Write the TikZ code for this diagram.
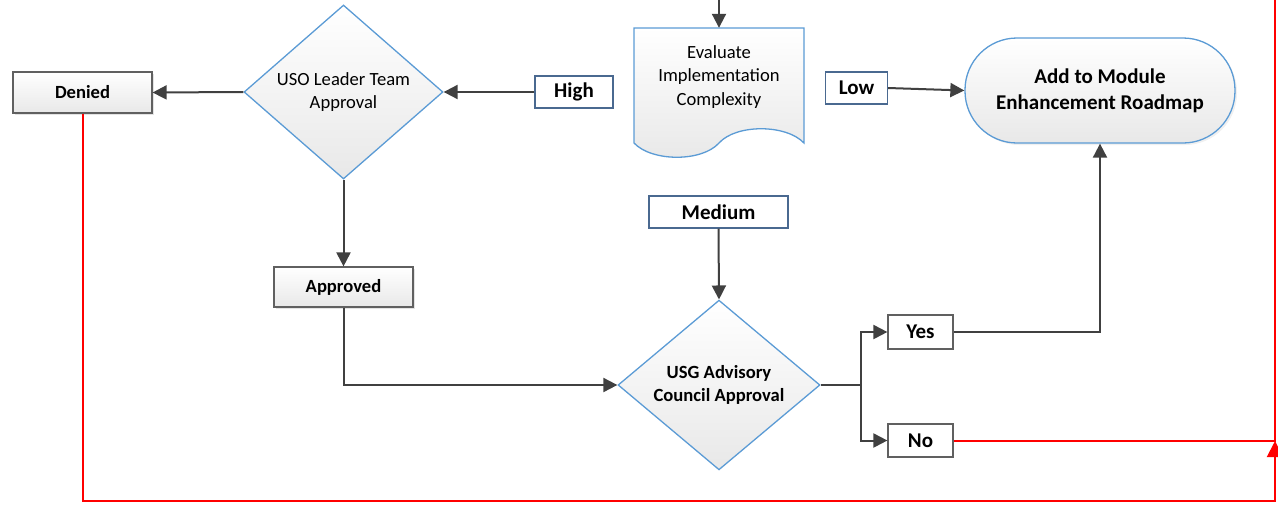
\documentclass[tikz,border=0pt]{standalone}
\usepackage{fontspec}
\setmainfont{Carlito}
\usetikzlibrary{shapes.geometric,arrows.meta,shadows,calc}
\definecolor{lblue}{HTML}{5B9BD5}
\definecolor{sblue}{HTML}{4A6990}
\definecolor{dgray}{HTML}{404040}
\definecolor{bgray}{HTML}{606060}
\tikzset{
  regtxt/.style={font=\fontsize{18.6}{23.6}\selectfont},
  boldtxt/.style={font=\bfseries\fontsize{18.6}{23}\selectfont},
  bigtxt/.style={font=\bfseries\fontsize{21}{26}\selectfont},
  grad/.style={top color=white,bottom color=black!9},
  graybox/.style={rectangle,draw=bgray,line width=1.2pt,grad,boldtxt,inner sep=0pt,
    drop shadow={opacity=0.22,shadow xshift=2pt,shadow yshift=-2pt}},
  bluelabel/.style={rectangle,draw=sblue,line width=1.2pt,fill=white,bigtxt,inner sep=0pt},
  graylabel/.style={rectangle,draw=bgray,line width=1.2pt,fill=white,bigtxt,inner sep=0pt},
  decision/.style={diamond,draw=lblue,line width=1.3pt,grad,inner sep=0pt,align=center},
  conn/.style={draw=dgray,line width=2pt,-{Triangle[length=14pt,width=14pt]}},
  plain/.style={draw=dgray,line width=2pt},
  redline/.style={draw=red,line width=2pt},
}
\begin{document}
\begin{tikzpicture}[x=1pt,y=-1pt]
\useasboundingbox (0,0) rectangle (1278,504);
% nodes
\node[graybox,minimum width=139pt,minimum height=41pt] (denied) at (82.5,92.5) {Denied};
\node[decision,regtxt,minimum width=199pt,minimum height=174pt] (uso) at (343.5,92) {USO Leader Team\\Approval};
\node[bluelabel,minimum width=78pt,minimum height=32pt] (high) at (574,92) {High};
% document shape
\node[minimum width=170pt,minimum height=122pt,inner sep=0pt] (eval) at (719,89) {};
\shade[grad,draw=lblue,line width=1.3pt]
  (634,28) -- (804,28) -- (804,143)
  .. controls (786,124) and (736,124) .. (719,143)
  .. controls (702,162) and (652,162) .. (634,143) -- cycle;
\node[regtxt,align=center] (evaltxt) at (719,77) {Evaluate\\Implementation\\Complexity};
\node[bluelabel,minimum width=62pt,minimum height=32pt] (low) at (856.5,88) {Low};
\node[rectangle,draw=lblue,line width=1.3pt,grad,rounded corners=52pt,
  minimum width=270pt,minimum height=105pt,bigtxt,align=center,inner sep=0pt,
  drop shadow={opacity=0.12,shadow xshift=2pt,shadow yshift=-2pt}] (road) at (1100,90.5)
  {Add to Module\\Enhancement Roadmap};
\node[bluelabel,minimum width=139pt,minimum height=32pt] (medium) at (718.5,212) {Medium};
\node[graybox,minimum width=139pt,minimum height=40pt] (approved) at (343.5,287) {Approved};
\node[decision,boldtxt,minimum width=202pt,minimum height=156pt] (usg) at (719,385) {USG Advisory\\Council Approval};
\node[graylabel,minimum width=65pt,minimum height=34pt] (yes) at (920.5,332) {Yes};
\node[graylabel,minimum width=65pt,minimum height=33pt] (no) at (920.5,440.5) {No};
% coordinates
\coordinate (top) at (719,0);
\coordinate (br) at (861,385);
\coordinate (rtop) at (1275,0);
\coordinate (rbot) at (1275,501);
\coordinate (rtip) at (1275,441);
% connectors
\draw[conn] (top) -- (eval.north);
\draw[conn] (high.west) -- (uso.east);
\draw[conn] (uso.west) -- (denied.east);
\draw[conn] (uso.south) -- (approved.north);
\draw[conn] (approved.south) |- (usg.west);
\draw[conn] (medium.south) -- (usg.north);
\draw[conn] (low.east) -- (road.west);
\draw[plain] (usg.east) -- (br);
\draw[conn] (br) |- (yes.west);
\draw[conn] (br) |- (no.west);
\draw[conn] (yes.east) -| (road.south);
\draw[redline] (no.east) -| (rtop);
\draw[redline,-{Triangle[length=16pt,width=16pt]}] (denied.south) |- (rbot) -- (rtip);
\end{tikzpicture}
\end{document}
